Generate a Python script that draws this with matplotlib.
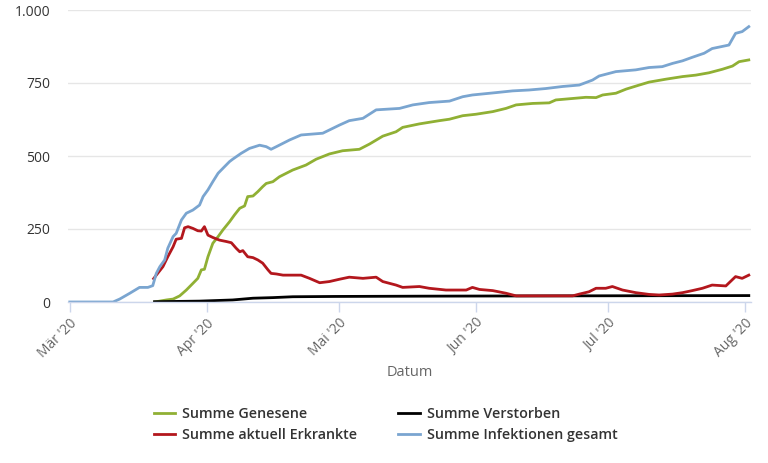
import numpy as np
import pandas as pd
import matplotlib
matplotlib.use("Agg")
import matplotlib.pyplot as plt
from matplotlib.ticker import FuncFormatter

start = pd.Timestamp("2020-03-01")

# Summe Infektionen gesamt (Tage seit 1. März, Werte)
inf_days = [0, 9.8, 11.3, 13.6, 15.8, 17.7, 18.8, 19.6, 20.4, 21.5, 22.2, 23.4, 24.1,
            25.3, 26.4, 27.9, 29.4, 30.2, 31.3, 32.4, 33.6, 34.7, 36.2, 36.9, 38.8,
            40.7, 43.0, 44.5, 45.6, 46.8, 49.8, 52.4, 57.3, 61.1, 63.3, 66.4, 69.4,
            74.7, 77.7, 81.4, 86.0, 89.0, 91.2, 96.5, 100.3, 104.0, 107.8, 111.6,
            115.4, 118.4, 119.9, 123.7, 128.2, 131.2, 134.2, 136.5, 138.8, 141.0,
            143.7, 145.5, 149.3, 150.8, 152.3, 153.8]
inf_vals = [0, 0, 10, 30, 50, 50, 56, 98, 121, 144, 184, 224, 235, 281, 304, 315, 332,
            361, 384, 412, 441, 458, 481, 489, 509, 526, 537, 532, 523, 532, 555, 572,
            578, 606, 621, 629, 658, 663, 675, 683, 688, 703, 709, 717, 723, 726, 731,
            738, 743, 760, 774, 789, 795, 803, 806, 817, 826, 838, 852, 868, 880, 920,
            926, 943]

# Summe Genesene
gen_days = [19.2, 21.9, 23.4, 24.9, 26.4, 27.9, 29.0, 29.8, 30.5, 31.3, 32.4, 33.6,
            34.7, 36.2, 37.3, 38.5, 39.6, 40.3, 41.5, 42.6, 43.7, 44.5, 46.0, 47.5,
            50.5, 53.5, 55.8, 58.8, 61.8, 65.6, 67.9, 70.9, 73.9, 75.4, 79.2, 83.7,
            86.0, 89.0, 92.0, 95.8, 98.8, 101.1, 104.8, 108.6, 110.1, 113.9, 116.9,
            119.2, 120.7, 123.7, 126.0, 129.0, 131.2, 135.0, 138.8, 141.8, 144.8,
            147.8, 150.1, 151.6, 153.8]
gen_vals = [0, 7, 10, 21, 41, 64, 81, 110, 112, 155, 201, 224, 247, 275, 298, 321, 329,
            361, 363, 378, 395, 406, 412, 429, 452, 469, 489, 507, 518, 523, 541, 568,
            583, 598, 610, 621, 626, 638, 643, 652, 663, 675, 680, 682, 692, 697, 701,
            700, 709, 715, 729, 743, 753, 763, 772, 777, 785, 797, 808, 823, 829]

# Summe aktuell Erkrankte
erk_days = [19.0, 19.6, 21.1, 22.2, 23.4, 24.1, 25.3, 26.0, 26.8, 27.9, 29.0, 29.8,
            30.5, 31.3, 32.4, 33.9, 35.5, 36.6, 37.7, 38.5, 39.2, 40.3, 41.5, 42.6,
            43.7, 44.9, 45.6, 46.8, 48.3, 50.5, 52.4, 54.3, 56.6, 58.8, 61.1, 63.3,
            66.4, 69.4, 70.9, 73.9, 75.4, 79.2, 81.4, 85.2, 89.8, 91.2, 92.8, 95.8,
            98.8, 101.1, 104.8, 109.4, 113.9, 115.4, 117.6, 119.2, 121.4, 122.9,
            125.2, 128.2, 131.2, 133.5, 136.5, 138.8, 141.0, 143.3, 145.5, 148.6,
            150.8, 152.3, 153.8]
erk_vals = [80, 92, 121, 155, 189, 215, 218, 254, 258, 252, 244, 243, 258, 229, 221,
            212, 207, 203, 184, 172, 176, 155, 152, 144, 133, 110, 98, 96, 92, 92, 92,
            81, 66, 70, 78, 85, 81, 85, 70, 58, 50, 53, 47, 41, 41, 50, 43, 39, 30, 21,
            21, 21, 21, 27, 35, 47, 47, 53, 41, 32, 26, 24, 27, 32, 39, 47, 58, 55, 87,
            81, 92]

# Summe Verstorben
ver_days = [19.2, 29.4, 36.9, 41.5, 46.0, 50.5, 60.0, 80.0, 110.0, 153.8]
ver_vals = [1, 3, 7, 13, 15, 18, 19, 20, 21, 22]

month_labels = ["Mär '20", "Apr '20", "Mai '20", "Jun '20", "Jul '20", "Aug '20"]
y_ticks = [0, 250, 500, 750, 1000]


def to_dates(days):
    return start + pd.to_timedelta(np.array(days), unit="D")


plt.rcParams["font.family"] = ["Open Sans", "DejaVu Sans"]

fig = plt.figure(figsize=(7.68, 4.63), dpi=100)
ax = fig.add_axes([68 / 768, 1 - 302 / 463, (751 - 68) / 768, 292 / 463])

lw = 2.0
l_gen, = ax.plot(to_dates(gen_days), gen_vals, color="#90b034", lw=lw, label="Summe Genesene")
l_ver, = ax.plot(to_dates(ver_days), ver_vals, color="#000000", lw=lw, label="Summe Verstorben")
l_erk, = ax.plot(to_dates(erk_days), erk_vals, color="#b3171d", lw=lw, label="Summe aktuell Erkrankte")
l_inf, = ax.plot(to_dates(inf_days), inf_vals, color="#7aa5d0", lw=lw, label="Summe Infektionen gesamt")

ax.set_xlim(start - pd.Timedelta(days=0.4), start + pd.Timedelta(days=154.3))
ax.set_ylim(0, 1000)

month_ticks = pd.date_range("2020-03-01", periods=6, freq="MS")
ax.set_xticks(month_ticks)
ax.set_xticklabels(month_labels, rotation=45, ha="right", rotation_mode="anchor",
                   fontsize=10, color="#666666")
ax.tick_params(axis="x", length=7, width=1, color="#ccd6eb", pad=3)

ax.set_yticks(y_ticks)
ax.yaxis.set_major_formatter(FuncFormatter(lambda v, p: f"{int(v):,}".replace(",", ".")))
ax.tick_params(axis="y", length=0, labelsize=10, labelcolor="#333333", pad=13)
ax.grid(axis="y", color="#e6e6e6", lw=1)
ax.set_axisbelow(True)

for s in ["top", "right", "left"]:
    ax.spines[s].set_visible(False)
ax.spines["bottom"].set_color("#ccd6eb")
ax.spines["bottom"].set_linewidth(1)

ax.set_xlabel("Datum", fontsize=10.5, color="#666666", labelpad=3)

# Reihenweise wie im Original: Genesene | Verstorben, Erkrankte | Infektionen
handles = [l_gen, l_erk, l_ver, l_inf]
fig.legend(handles, [h.get_label() for h in handles], loc="upper left",
           bbox_to_anchor=(141 / 768, 1 - 394 / 463),
           ncol=2, frameon=False, handlelength=1.5, handletextpad=0.5,
           columnspacing=2.85, labelspacing=0.5,
           prop={"weight": "semibold", "size": 10.3})
for t in fig.legends[0].get_texts():
    t.set_color("#333333")

fig.savefig("out.png", dpi=100)
